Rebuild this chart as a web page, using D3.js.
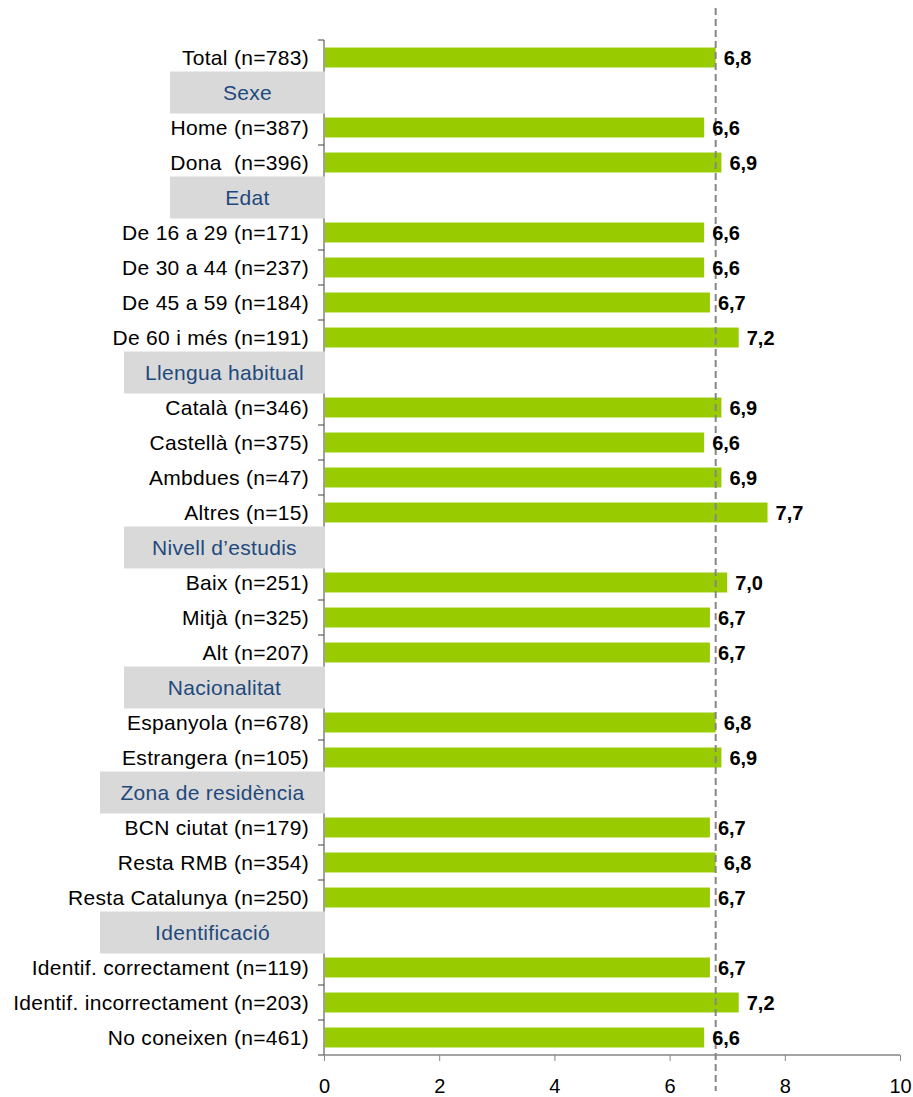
<!DOCTYPE html>
<html>
<head>
<meta charset="utf-8">
<script src="https://cdn.jsdelivr.net/npm/d3@7"></script>
<style>
  html, body { margin: 0; padding: 0; background: #fff; }
  svg { display: block; font-family: "Liberation Sans", Arial, sans-serif; }
  text { white-space: pre; }
</style>
</head>
<body>
<svg id="chart" width="913" height="1097"></svg>
<script>
// Rows from top to bottom; group headings have no value.
const categories = [
  "Total (n=783)",
  "Sexe",
  "Home (n=387)",
  "Dona  (n=396)",
  "Edat",
  "De 16 a 29 (n=171)",
  "De 30 a 44 (n=237)",
  "De 45 a 59 (n=184)",
  "De 60 i més (n=191)",
  "Llengua habitual",
  "Català (n=346)",
  "Castellà (n=375)",
  "Ambdues (n=47)",
  "Altres (n=15)",
  "Nivell d’estudis",
  "Baix (n=251)",
  "Mitjà (n=325)",
  "Alt (n=207)",
  "Nacionalitat",
  "Espanyola (n=678)",
  "Estrangera (n=105)",
  "Zona de residència",
  "BCN ciutat (n=179)",
  "Resta RMB (n=354)",
  "Resta Catalunya (n=250)",
  "Identificació",
  "Identif. correctament (n=119)",
  "Identif. incorrectament (n=203)",
  "No coneixen (n=461)"
];

const values = [
  6.8,
  null, 6.6, 6.9,
  null, 6.6, 6.6, 6.7, 7.2,
  null, 6.9, 6.6, 6.9, 7.7,
  null, 7.0, 6.7, 6.7,
  null, 6.8, 6.9,
  null, 6.7, 6.8, 6.7,
  null, 6.7, 7.2, 6.6
];

const groupHeadings = [
  "Sexe", "Edat", "Llengua habitual", "Nivell d’estudis",
  "Nacionalitat", "Zona de residència", "Identificació"
];

const xTicks = [0, 2, 4, 6, 8, 10];

// Reference line: the overall mean (Total row)
const referenceValue = values[0];

// ---- layout & style ----
const plot = { left: 324, right: 900, top: 40, bottom: 1055 };
const headingBoxLeft = {
  "Sexe": 170, "Edat": 170,
  "Llengua habitual": 124, "Nivell d’estudis": 124, "Nacionalitat": 124,
  "Zona de residència": 100, "Identificació": 100
};
const barColor = "#99cc00";
const headingFill = "#d9d9d9";
const headingText = "#1f497d";
const labelSize = 21;
const labelSpacing = "0.3px";

const svg = d3.select("#chart");

const x = d3.scaleLinear().domain([0, 10]).range([plot.left, plot.right]);
const y = d3.scaleBand()
  .domain(d3.range(categories.length))
  .range([plot.top, plot.bottom])
  .paddingInner(0.43)
  .paddingOuter(0.215);
const step = y.step();
const rowCenter = i => y(i) + y.bandwidth() / 2;

const rows = categories.map((c, i) => ({
  i, label: c, value: values[i], heading: groupHeadings.includes(c)
}));
const dataRows = rows.filter(r => !r.heading);
const headRows = rows.filter(r => r.heading);

// Y axis: line with ticks at row boundaries
const yAxis = svg.append("g").attr("class", "y-axis");
yAxis.append("line")
  .attr("x1", plot.left).attr("x2", plot.left)
  .attr("y1", plot.top).attr("y2", plot.bottom)
  .attr("stroke", "#404040").attr("stroke-width", 1);
yAxis.selectAll("line.tick")
  .data(d3.range(categories.length + 1))
  .join("line")
  .attr("class", "tick")
  .attr("x1", plot.left - 6).attr("x2", plot.left)
  .attr("y1", k => plot.top + k * step).attr("y2", k => plot.top + k * step)
  .attr("stroke", "#404040").attr("stroke-width", 1);

// Bars
svg.append("g").selectAll("rect")
  .data(dataRows)
  .join("rect")
  .attr("x", x(0) + 1)
  .attr("y", d => y(d.i))
  .attr("width", d => x(d.value) - x(0) - 1)
  .attr("height", y.bandwidth())
  .attr("fill", barColor);

// Category labels
svg.append("g").selectAll("text")
  .data(dataRows)
  .join("text")
  .attr("x", plot.left - 15)
  .attr("y", d => rowCenter(d.i))
  .attr("dy", "0.36em")
  .attr("text-anchor", "end")
  .attr("font-size", labelSize)
  .attr("letter-spacing", labelSpacing)
  .attr("fill", "#000")
  .text(d => d.label);

// Group heading boxes (drawn over the axis line)
const hg = svg.append("g").selectAll("g")
  .data(headRows)
  .join("g");
hg.append("rect")
  .attr("x", d => headingBoxLeft[d.label])
  .attr("y", d => rowCenter(d.i) - 21)
  .attr("width", d => plot.left + 1 - headingBoxLeft[d.label])
  .attr("height", 42)
  .attr("fill", headingFill);
hg.append("text")
  .attr("x", d => (headingBoxLeft[d.label] + plot.left + 1) / 2)
  .attr("y", d => rowCenter(d.i))
  .attr("dy", "0.36em")
  .attr("text-anchor", "middle")
  .attr("font-size", labelSize)
  .attr("letter-spacing", labelSpacing)
  .attr("fill", headingText)
  .text(d => d.label);

// X axis
const xAxis = svg.append("g")
  .attr("transform", `translate(0,${plot.bottom})`)
  .call(d3.axisBottom(x).tickValues(xTicks).tickSize(6).tickPadding(18).tickFormat(d3.format("d")));
xAxis.select(".domain").attr("stroke", "#868686").attr("stroke-width", 1.5)
  .attr("d", `M${plot.left},0H${plot.right}`);
xAxis.selectAll(".tick line").attr("stroke", "#868686");
xAxis.selectAll(".tick text")
  .attr("font-size", 20)
  .attr("font-family", "'Liberation Sans', Arial, sans-serif")
  .attr("fill", "#000");

// Dashed mean line
svg.append("line")
  .attr("x1", x(referenceValue)).attr("x2", x(referenceValue))
  .attr("y1", 8).attr("y2", 1091)
  .attr("stroke", "#868686")
  .attr("stroke-width", 2)
  .attr("stroke-dasharray", "7,4");

// Value labels
const fmt = v => d3.format(".1f")(v).replace(".", ",");
svg.append("g").selectAll("text")
  .data(dataRows)
  .join("text")
  .attr("x", d => x(d.value) + 8)
  .attr("y", d => rowCenter(d.i))
  .attr("dy", "0.36em")
  .attr("font-size", 20)
  .attr("font-weight", "bold")
  .attr("fill", "#000")
  .text(d => fmt(d.value));
</script>
</body>
</html>
